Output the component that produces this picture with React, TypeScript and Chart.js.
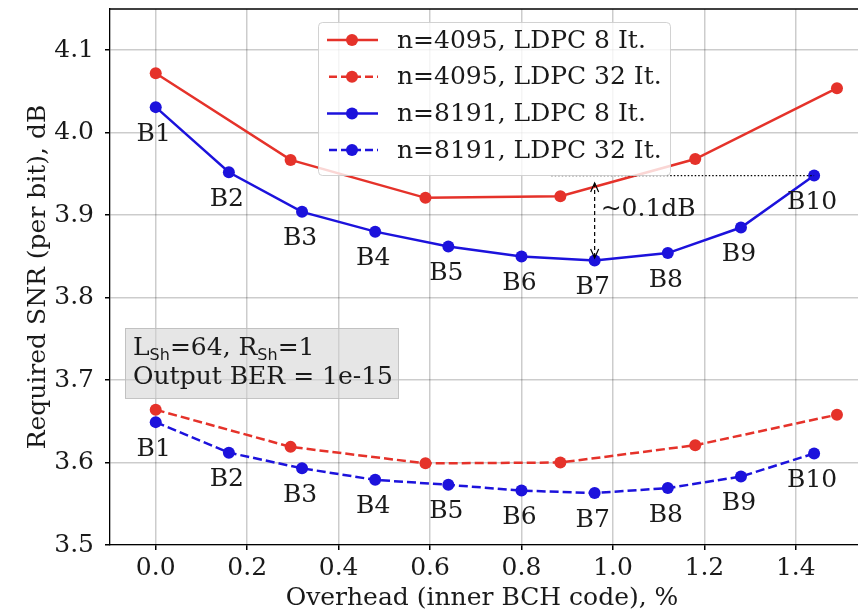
import React, { useEffect, useRef } from "react";
import { Chart, registerables } from "chart.js";

Chart.register(...registerables);

// ---------- data ----------
const bLabels = ["B1", "B2", "B3", "B4", "B5", "B6", "B7", "B8", "B9", "B10"];
const xBlue = [0, 0.16, 0.32, 0.48, 0.64, 0.8, 0.96, 1.12, 1.28, 1.44];
const xRed = [0, 0.295, 0.59, 0.885, 1.18, 1.49];
const red8 = [4.072, 3.967, 3.921, 3.923, 3.968, 4.054];
const red32 = [3.664, 3.619, 3.599, 3.6, 3.621, 3.658];
const blue8 = [4.031, 3.952, 3.904, 3.88, 3.862, 3.85, 3.845, 3.854, 3.885, 3.948];
const blue32 = [3.649, 3.612, 3.593, 3.579, 3.573, 3.566, 3.563, 3.569, 3.583, 3.611];
const xTicks = [0, 0.2, 0.4, 0.6, 0.8, 1.0, 1.2, 1.4];
const yTicks = [3.5, 3.6, 3.7, 3.8, 3.9, 4.0, 4.1];
const seriesNames = [
  "n=4095, LDPC 8 It.",
  "n=4095, LDPC 32 It.",
  "n=8191, LDPC 8 It.",
  "n=8191, LDPC 32 It.",
];
const xTitle = "Overhead (inner BCH code), %";
const yTitle = "Required SNR (per bit), dB";
const gapText = "~0.1dB";

// ---------- styles ----------
const RED = "#e5322a";
const BLUE = "#1c12dc";
const SERIF = '"DejaVu Serif", serif';
const SANS = '"DejaVu Sans", sans-serif';
const TXT = "#1a1a1a";
const DASH = [9, 4];
const FS = 25;

const pts = (xs: number[], ys: number[]) => ys.map((v, i) => ({ x: xs[i], y: v }));

const overlay = {
  id: "overlay",
  afterDatasetsDraw(chart: any) {
    const { ctx, chartArea: a, scales } = chart;
    const x = scales.x;
    const y = scales.y;
    ctx.save();
    // top spine
    ctx.strokeStyle = "#000";
    ctx.lineWidth = 1.3;
    ctx.beginPath();
    ctx.moveTo(a.left, a.top);
    ctx.lineTo(a.right, a.top);
    ctx.stroke();

    // B labels
    ctx.font = `${FS}px ${SERIF}`;
    ctx.fillStyle = TXT;
    ctx.textAlign = "center";
    ctx.textBaseline = "middle";
    [blue8, blue32].forEach((s) =>
      s.forEach((v, i) => {
        ctx.fillText(bLabels[i], x.getPixelForValue(xBlue[i]) - 2, y.getPixelForValue(v) + 27);
      })
    );

    // dotted reference line at B10 level
    const yRef = y.getPixelForValue(blue8[9]);
    ctx.strokeStyle = "#000";
    ctx.lineWidth = 1.2;
    ctx.setLineDash([1.5, 2]);
    ctx.beginPath();
    ctx.moveTo(x.getPixelForValue(0.865), yRef);
    ctx.lineTo(x.getPixelForValue(xBlue[9]), yRef);
    ctx.stroke();

    // double arrow
    const ax = x.getPixelForValue(xBlue[6]);
    const y1 = y.getPixelForValue(3.939);
    const y2 = y.getPixelForValue(3.848);
    ctx.setLineDash([4, 3]);
    ctx.lineWidth = 1.2;
    ctx.beginPath();
    ctx.moveTo(ax, y1);
    ctx.lineTo(ax, y2);
    ctx.stroke();
    ctx.setLineDash([]);
    ctx.beginPath();
    ctx.moveTo(ax - 4, y1 + 9);
    ctx.lineTo(ax, y1);
    ctx.lineTo(ax + 4, y1 + 9);
    ctx.moveTo(ax - 4, y2 - 9);
    ctx.lineTo(ax, y2);
    ctx.lineTo(ax + 4, y2 - 9);
    ctx.stroke();

    ctx.textAlign = "left";
    ctx.textBaseline = "middle";
    ctx.fillStyle = TXT;
    ctx.font = `${FS}px ${SERIF}`;
    ctx.fillText(gapText, ax + 6, y.getPixelForValue(3.907));

    // info box
    const bx = 125, by = 328, bw = 273, bh = 70;
    ctx.fillStyle = "rgba(210,210,210,0.55)";
    ctx.fillRect(bx, by, bw, bh);
    ctx.strokeStyle = "rgba(190,190,190,0.9)";
    ctx.lineWidth = 1;
    ctx.strokeRect(bx + 0.5, by + 0.5, bw, bh);
    ctx.fillStyle = TXT;
    ctx.textBaseline = "alphabetic";
    let tx = 133;
    const base1 = 355;
    const seg = (t: string, sub: boolean) => {
      ctx.font = sub ? `16px ${SANS}` : `${FS}px ${SERIF}`;
      ctx.fillText(t, tx, sub ? base1 + 5 : base1);
      tx += ctx.measureText(t).width;
    };
    seg("L", false);
    seg("Sh", true);
    seg("=64, R", false);
    seg("Sh", true);
    seg("=1", false);
    ctx.font = `${FS}px ${SERIF}`;
    ctx.fillText("Output BER = 1e-15", 133, 384);

    // legend
    const lx = 318, ly = 22, lw = 352, lh = 153;
    ctx.fillStyle = "rgba(255,255,255,0.8)";
    ctx.strokeStyle = "rgba(205,205,205,0.9)";
    ctx.lineWidth = 1;
    ctx.beginPath();
    (ctx as any).roundRect(lx + 0.5, ly + 0.5, lw, lh, 4);
    ctx.fill();
    ctx.stroke();
    const colors = [RED, RED, BLUE, BLUE];
    const dashed = [false, true, false, true];
    seriesNames.forEach((name, i) => {
      const cy = 40 + i * 36.7;
      ctx.strokeStyle = colors[i];
      ctx.fillStyle = colors[i];
      ctx.lineWidth = 2.5;
      ctx.setLineDash(dashed[i] ? [8, 4] : []);
      ctx.beginPath();
      ctx.moveTo(dashed[i] ? 329 : 327, cy);
      ctx.lineTo(378, cy);
      ctx.stroke();
      ctx.setLineDash([]);
      ctx.beginPath();
      ctx.arc(352, cy, 6, 0, Math.PI * 2);
      ctx.fill();
      ctx.fillStyle = TXT;
      ctx.font = `${FS}px ${SERIF}`;
      ctx.textBaseline = "middle";
      ctx.fillText(name, 397, cy + 1);
    });

    // axis titles
    ctx.fillStyle = TXT;
    ctx.font = `${FS}px ${SERIF}`;
    ctx.textAlign = "center";
    ctx.textBaseline = "middle";
    ctx.fillText(xTitle, 482, 598);
    ctx.save();
    ctx.translate(38, (a.top + a.bottom) / 2);
    ctx.rotate(-Math.PI / 2);
    ctx.fillText(yTitle, 0, 0);
    ctx.restore();

    ctx.restore();
  },
};

export default function App() {
  const ref = useRef<HTMLCanvasElement | null>(null);
  useEffect(() => {
    document.body.style.margin = "0";
    const canvas = ref.current!;
    const mk = (label: string, xs: number[], ys: number[], color: string, dash: boolean) => ({
      label,
      data: pts(xs, ys),
      borderColor: color,
      backgroundColor: color,
      borderWidth: 2.5,
      borderDash: dash ? DASH : [],
      pointRadius: 6,
      pointBorderWidth: 0,
      pointBackgroundColor: color,
      tension: 0,
      fill: false,
    });
    const chart = new Chart(canvas, {
      type: "line",
      data: {
        datasets: [
          mk(seriesNames[0], xRed, red8, RED, false),
          mk(seriesNames[1], xRed, red32, RED, true),
          mk(seriesNames[2], xBlue, blue8, BLUE, false),
          mk(seriesNames[3], xBlue, blue32, BLUE, true),
        ],
      },
      options: {
        animation: false,
        responsive: false,
        devicePixelRatio: 1,
        layout: { autoPadding: false, padding: { left: 0, top: 9, right: 0, bottom: 0 } },
        plugins: { legend: { display: false }, tooltip: { enabled: false } },
        scales: {
          x: {
            type: "linear",
            min: -0.1,
            max: 1.536,
            afterFit: (s: any) => {
              s.height = 66;
              s.paddingLeft = 0;
              s.paddingRight = 0;
            },
            afterBuildTicks: (s: any) => {
              s.ticks = xTicks.map((v) => ({ value: v }));
            },
            ticks: {
              font: { family: SERIF, size: FS },
              color: TXT,
              padding: 3,
              maxRotation: 0,
              autoSkip: false,
              callback: (v: any) => Number(v).toFixed(1),
            },
            grid: { color: "rgba(0,0,0,0.2)", lineWidth: 1.5, tickLength: 5, tickColor: "#000" },
            border: { color: "#000", width: 1.3 },
          },
          y: {
            type: "linear",
            min: 3.5,
            max: 4.15,
            afterFit: (s: any) => {
              s.width = 110;
              s.paddingTop = 0;
              s.paddingBottom = 0;
            },
            afterBuildTicks: (s: any) => {
              s.ticks = yTicks.map((v) => ({ value: v }));
            },
            ticks: {
              font: { family: SERIF, size: FS },
              color: TXT,
              padding: 11,
              autoSkip: false,
              callback: (v: any) => Number(v).toFixed(1),
            },
            grid: { color: "rgba(0,0,0,0.2)", lineWidth: 1.5, tickLength: 5, tickColor: "#000" },
            border: { color: "#000", width: 1.3 },
          },
        },
      } as any,
      plugins: [overlay],
    });
    return () => chart.destroy();
  }, []);
  return (
    <div style={{ position: "fixed", left: 0, top: 0, width: 858, height: 611, background: "#fff", overflow: "hidden" }}>
      <canvas ref={ref} width={858} height={611} />
    </div>
  );
}
